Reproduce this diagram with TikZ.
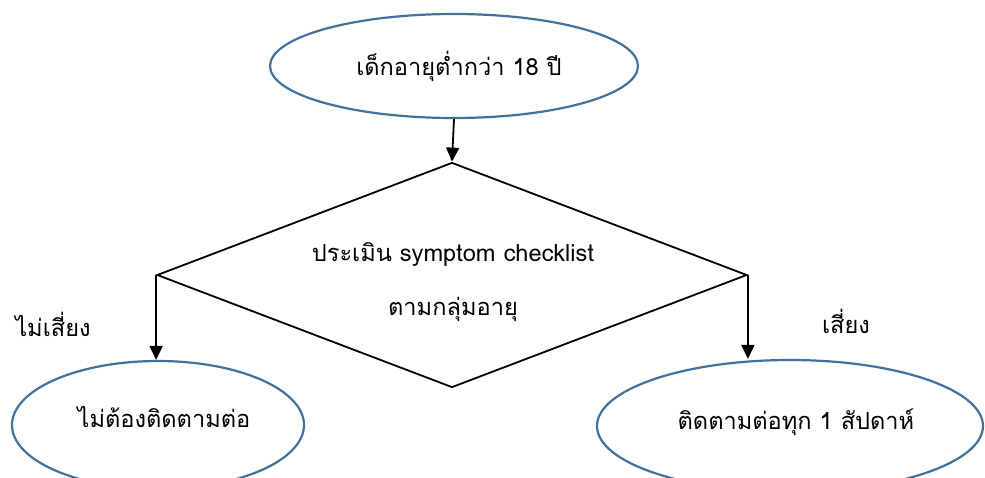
\documentclass[tikz,border=0pt]{standalone}
\usepackage{fontspec}
\newfontfamily\thaifont[Script=Thai]{Loma}
\usetikzlibrary{shapes.geometric,arrows.meta}
\definecolor{ellblue}{HTML}{41719C}
\tikzset{
  ell/.style={ellipse, draw=ellblue, line width=2.2pt, inner sep=0pt},
  decide/.style={diamond, draw=black, line width=1.8pt, inner sep=0pt, minimum width=590pt, minimum height=225pt},
  txt/.style={font=\thaifont\fontsize{23.6}{28}\selectfont, inner sep=0pt},
  arr/.style={draw=black, line width=1.8pt, -{Triangle[length=14pt,width=13pt]}}
}
\begin{document}
\begin{tikzpicture}[x=1pt,y=-1pt]
\useasboundingbox (0,0) rectangle (985,477);
\node[ell, minimum width=368pt, minimum height=104pt] (top) at (454,66) {};
\node[txt] (toptxt) at (459,66) {เด็กอายุต่ำกว่า 18 ปี};
\node[decide] (d) at (452,275) {};
\node[txt] (d1) at (453,254) {ประเมิน symptom checklist};
\node[txt] (d2) at (453,309) {ตามกลุ่มอายุ};
\node[ell, minimum width=292pt, minimum height=128pt] (lo) at (158,425) {};
\node[txt] (lotxt) at (164,417) {ไม่ต้องติดตามต่อ};
\node[ell, minimum width=386pt, minimum height=132pt] (ro) at (790,426) {};
\node[txt] (rotxt) at (796,422) {ติดตามต่อทุก 1 สัปดาห์};
\node[txt] (nol) at (53,324) {ไม่เสี่ยง};
\node[txt] (yesl) at (846,321) {เสี่ยง};
\draw[arr] (top.south) -- (d.north);
\draw[arr] (d.west) -- (d.west |- lo.north);
\draw[arr] (d.east) -- (d.east |- ro.north);
\end{tikzpicture}
\end{document}
